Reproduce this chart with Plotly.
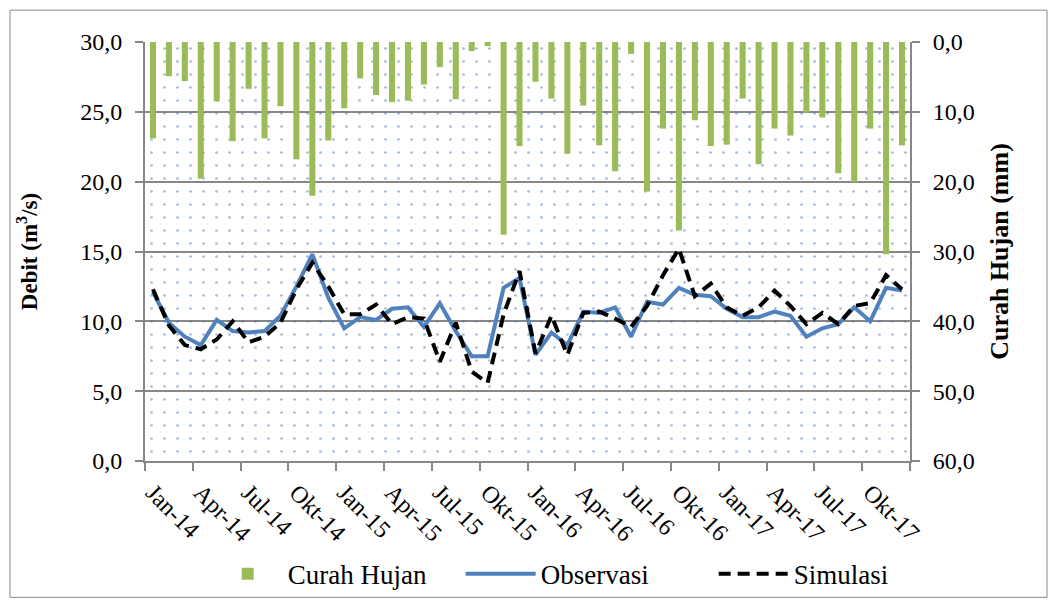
import plotly.graph_objects as go

# ---------------- data ----------------
month_names = ["Jan", "Feb", "Mar", "Apr", "Mei", "Jun", "Jul", "Agu", "Sep", "Okt", "Nov", "Des"]
years = ["14", "15", "16", "17"]
months = [f"{m}-{y}" for y in years for m in month_names]

curah_hujan = [13.8, 4.9, 5.6, 19.6, 8.5, 14.2, 6.7, 13.8, 9.2, 16.8, 22.0, 14.1,
               9.5, 5.2, 7.6, 8.6, 8.4, 6.1, 3.6, 8.2, 1.3, 0.6, 27.6, 14.9,
               5.7, 8.1, 16.0, 9.1, 14.8, 18.5, 1.7, 21.4, 12.4, 27.0, 11.2, 14.9,
               14.7, 8.1, 17.5, 12.4, 13.4, 10.1, 10.8, 18.8, 20.1, 12.4, 30.4, 14.8]

observasi = [12.1, 9.9, 8.9, 8.3, 10.1, 9.3, 9.2, 9.3, 10.4, 12.5, 14.8, 11.7,
             9.5, 10.3, 10.1, 10.9, 11.0, 9.6, 11.3, 9.3, 7.5, 7.5, 12.4, 13.1,
             7.6, 9.2, 8.3, 10.7, 10.6, 11.0, 8.9, 11.4, 11.2, 12.4, 11.9, 11.8,
             10.9, 10.3, 10.3, 10.7, 10.4, 8.9, 9.5, 9.8, 11.0, 10.0, 12.4, 12.2]

simulasi = [12.3, 9.7, 8.3, 8.0, 8.7, 10.0, 8.5, 8.9, 9.9, 12.3, 14.2, 12.5,
            10.5, 10.5, 11.2, 9.8, 10.3, 10.2, 7.1, 9.9, 6.4, 5.6, 10.5, 13.6,
            7.7, 10.4, 7.6, 10.6, 10.7, 10.2, 9.6, 11.1, 13.3, 15.2, 11.8, 12.7,
            11.0, 10.4, 11.0, 12.2, 11.1, 9.8, 10.6, 9.8, 11.1, 11.3, 13.3, 12.3]

rain_ticks = [0, 10, 20, 30, 40, 50, 60]
debit_ticks = [0, 5, 10, 15, 20, 25, 30]

# ---------------- styles ----------------
FONT = "Liberation Serif, 'Times New Roman', serif"
GRID = "#878787"
GREEN = "#9BBB59"
BLUE = "#4F81BD"
TICK_SIZE = 24

fig = go.Figure()

# dotted plot-area fill (pattern bar spanning the whole plot area)
fig.add_trace(go.Bar(
    x=[months[0]], y=[rain_ticks[-1]], base=[0], width=[len(months)], offset=-0.5,
    marker=dict(color="rgba(0,0,0,0)", line=dict(width=0),
                pattern=dict(shape=".", fgcolor="#3D72BA", bgcolor="rgba(0,0,0,0)",
                             size=13, solidity=0.035, fillmode="overlay")),
    showlegend=False, hoverinfo="skip", xaxis="x", yaxis="y"))

fig.add_trace(go.Bar(
    x=months, y=curah_hujan, name="Curah Hujan", width=0.38,
    marker=dict(color=GREEN, line=dict(width=0)), xaxis="x", yaxis="y"))

fig.add_trace(go.Scatter(
    x=months, y=observasi, name="Observasi", mode="lines",
    line=dict(color=BLUE, width=4), xaxis="x", yaxis="y2"))

fig.add_trace(go.Scatter(
    x=months, y=simulasi, name="Simulasi", mode="lines",
    line=dict(color="black", width=4, dash="12px,7px"), xaxis="x", yaxis="y2"))

fig.update_layout(
    width=1057, height=610,
    margin=dict(l=145, r=147, t=42, b=147),
    paper_bgcolor="white", plot_bgcolor="white",
    separators=",.",
    barmode="overlay",
    font=dict(family=FONT, size=TICK_SIZE, color="black"),
    xaxis=dict(
        type="category", categoryorder="array", categoryarray=months,
        range=[-0.5, len(months) - 0.5],
        tickmode="linear", tick0=0, dtick=3, tickson="boundaries",
        ticks="outside", ticklen=8, tickwidth=2, tickcolor=GRID,
        tickangle=45, showgrid=False, zeroline=False,
        showline=True, linecolor=GRID, linewidth=2,
        ticklabelstandoff=6,
        tickfont=dict(family=FONT, size=TICK_SIZE),
    ),
    yaxis=dict(
        side="right", range=[rain_ticks[-1], rain_ticks[0]],
        tickvals=rain_ticks, tickformat=".1f",
        ticks="outside", ticklen=8, tickwidth=2, tickcolor=GRID,
        showgrid=True, gridcolor=GRID, gridwidth=2, zeroline=False,
        showline=True, linecolor=GRID, linewidth=2, mirror=False,
        ticklabelstandoff=8,
        title=dict(text="<b>Curah Hujan (mm)</b>", font=dict(family=FONT, size=26), standoff=16),
        tickfont=dict(family=FONT, size=TICK_SIZE),
    ),
    yaxis2=dict(
        overlaying="y", side="left", range=[debit_ticks[0], debit_ticks[-1]],
        tickvals=debit_ticks, tickformat=".1f",
        ticks="outside", ticklen=8, tickwidth=2, tickcolor=GRID,
        showgrid=False, zeroline=False,
        showline=True, linecolor=GRID, linewidth=2,
        ticklabelstandoff=8,
        title=dict(text="<b>Debit (m<sup>3</sup>/s)</b>", font=dict(family=FONT, size=23), standoff=36),
        tickfont=dict(family=FONT, size=TICK_SIZE),
    ),
    legend=dict(
        orientation="h", x=0.578, xanchor="center", y=-0.27, yanchor="middle",
        font=dict(family=FONT, size=27), itemwidth=70,
        entrywidth=168, entrywidthmode="pixels",
        bgcolor="rgba(0,0,0,0)",
    ),
    shapes=[dict(type="rect", xref="paper", yref="paper",
                 x0=-135 / 765, x1=1 + 137 / 765, y0=-137 / 421, y1=1 + 32 / 421,
                 line=dict(color=GRID, width=1), fillcolor="rgba(0,0,0,0)", layer="below")],
)

fig.write_html("out.html", config={"displayModeBar": False},
               post_script="document.body.style.margin='0';")
